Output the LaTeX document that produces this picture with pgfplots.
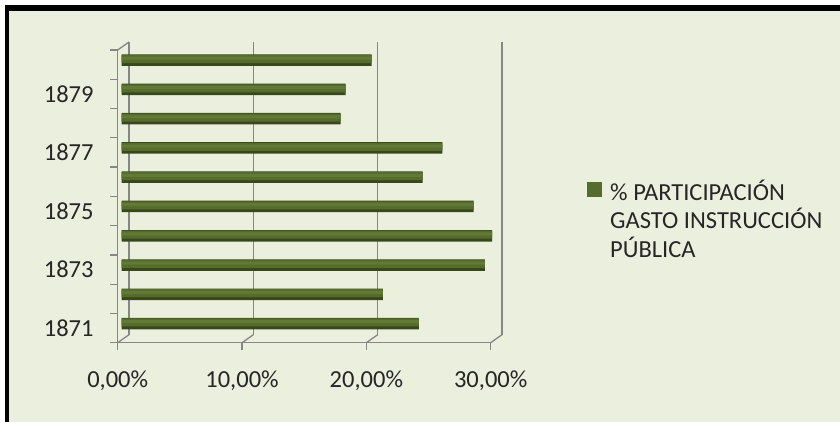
\documentclass[border=0pt]{standalone}
\usepackage{pgfplots}
\pgfplotsset{compat=1.18}
\usepackage{fontspec}
\setmainfont{Carlito}
\definecolor{bg}{RGB}{235,239,222}
\definecolor{axgray}{RGB}{134,134,134}
\definecolor{barmid}{RGB}{86,108,44}
\definecolor{bartop}{RGB}{98,122,54}
\definecolor{barbot}{RGB}{56,72,27}
\definecolor{txt}{RGB}{38,38,38}
\pgfplotstableread{
v y
23.9 1871
21.0 1872
29.2 1873
29.8 1874
28.3 1875
24.2 1876
25.8 1877
17.6 1878
18.0 1879
20.1 1880
}\gasto
\begin{document}
\begin{tikzpicture}[x=1pt,y=1pt]
\useasboundingbox (0,0) rectangle (840,422);
\fill[white] (0,0) rectangle (840,422);
\fill[bg] (5,0) rectangle (840,417);
\fill[black] (5,411) rectangle (840,417);
\fill[black] (5,0) rectangle (9,417);
\begin{axis}[
  at={(117.7pt,79.3pt)}, anchor=south west,
  scale only axis, width=373pt, height=292.7pt,
  xmin=0, xmax=30, ymin=1870.5, ymax=1880.5,
  axis lines*=left,
  axis line style={axgray, line width=1.3pt},
  xtick={0,10,20,30},
  xticklabels={{0,00\%},{10,00\%},{20,00\%},{30,00\%}},
  ytick={1871,1873,1875,1877,1879},
  yticklabels={1871,1873,1875,1877,1879},
  minor ytick={1870.5,1871.5,1872.5,1873.5,1874.5,1875.5,1876.5,1877.5,1878.5,1879.5,1880.5},
  tick align=outside,
  major tick length=7pt, minor tick length=7.7pt,
  major y tick style={draw=none},
  major x tick style={axgray, line width=1.3pt},
  minor y tick style={axgray, line width=1.3pt},
  xmajorgrids,
  major x grid style={axgray, line width=1.3pt, xshift=11.3pt, yshift=8pt},
  every tick label/.append style={font=\fontsize{24.5}{28.3}\selectfont, text=txt},
  xticklabel style={anchor=base, inner sep=0pt, yshift=-38pt},
  yticklabel style={anchor=east, inner sep=0pt, xshift=-17pt},
  legend style={draw=none, fill=none, at={(1.2582,0.5627)}, anchor=north west,
    font=\fontsize{24.5}{28.3}\selectfont, text=txt, inner sep=0pt,
    cells={align=left},
    /tikz/every odd column/.append style={column sep=6pt}},
  legend image code/.code={\fill[barmid] (0pt,17.8pt) rectangle (15pt,32.8pt);},
  clip=false,
]
\addplot[xbar, bar width=11.5pt, draw=none, fill=barbot,
  xshift=4pt, yshift=4.5pt] table[x=v,y=y] {\gasto};
\addplot[xbar, bar width=8pt, draw=none, fill=barmid, forget plot,
  xshift=4pt, yshift=5.6pt] table[x=v,y=y] {\gasto};
\addplot[xbar, bar width=3pt, draw=none, fill=bartop, forget plot,
  xshift=4pt, yshift=6.4pt] table[x=v,y=y] {\gasto};
\legend{\% PARTICIPACIÓN\\GASTO INSTRUCCIÓN\\PÚBLICA}
\draw[axgray, line width=1.3pt] (axis cs:0,1880.5) -- ++(11.3pt,8pt);
\draw[axgray, line width=1.3pt] (axis cs:0,1870.5) -- ++(11.3pt,8pt);
\draw[axgray, line width=1.3pt] (axis cs:10,1870.5) -- ++(11.3pt,8pt);
\draw[axgray, line width=1.3pt] (axis cs:20,1870.5) -- ++(11.3pt,8pt);
\draw[axgray, line width=1.3pt] (axis cs:30,1870.5) -- ++(11.3pt,8pt);
\end{axis}
\end{tikzpicture}
\end{document}
